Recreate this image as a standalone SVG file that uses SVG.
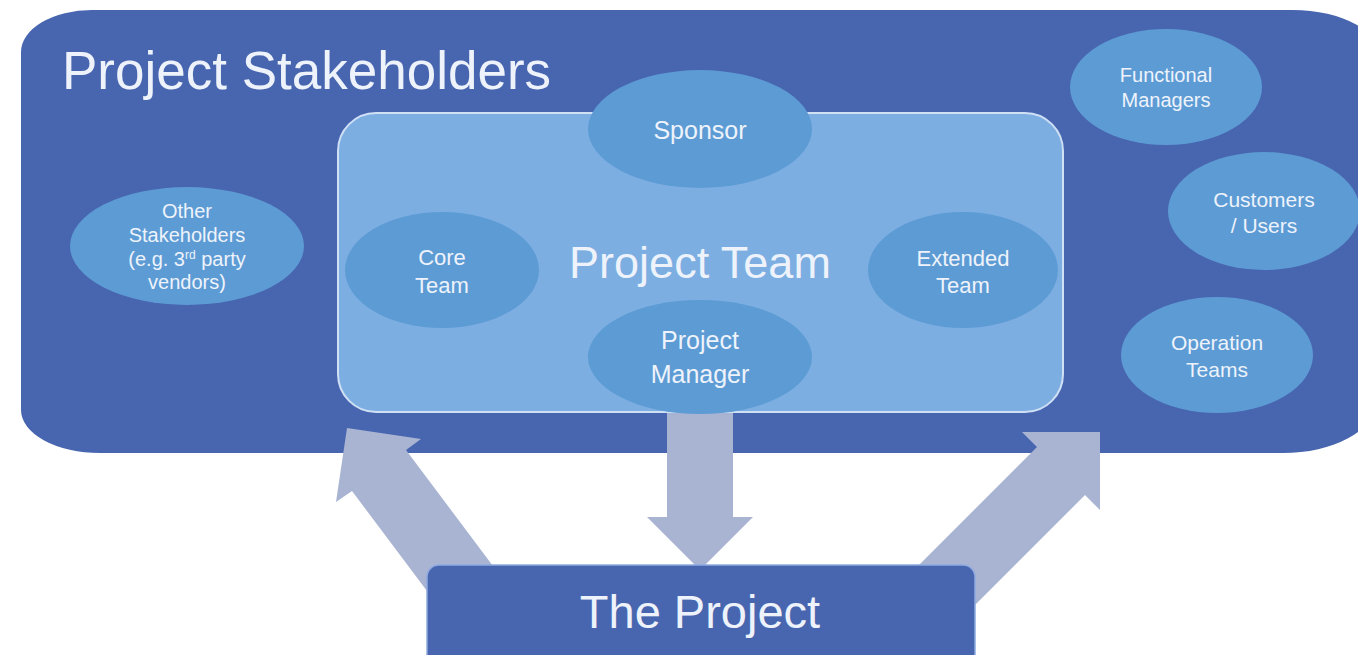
<svg xmlns="http://www.w3.org/2000/svg" width="1358" height="655" viewBox="0 0 1358 655">
<style>
.outer{fill:#4866b0}
.team{fill:#7caee2;stroke:#cfe0f5;stroke-width:2}
.ell{fill:#5d9bd4}
.arrow{fill:#a9b4d3}
.box{fill:#4866b0;stroke:#8faadf;stroke-width:1.5}
text{font-family:"Liberation Sans",Arial,sans-serif;fill:#eef3fb}
.lbl{text-anchor:middle}
.big{font-size:53px}
.mid{font-size:45px;text-anchor:middle}
.s20{font-size:20px}
.s21{font-size:21px}
.s22{font-size:22px}
.s25{font-size:25px}
</style>
<g id="stakeholders">
<path class="outer" d="M 92,10 H 1293 A 90 50 0 0 1 1383 60 L 1375 403 A 92 50 0 0 1 1283 453 H 100 A 79 43 0 0 1 21 410 V 52 A 71 42 0 0 1 92 10 Z"/>
<text class="big" x="62" y="89">Project Stakeholders</text>
</g>
<g id="connectors">
<polygon class="arrow" points="347,428 421,439 406,450 526,610 472,651 352,491 336,502"/>
<polygon class="arrow" points="667,405 733,405 733,517 753,517 700,570 647,517 667,517"/>
<polygon class="arrow" points="1100,432 1100,510 1085,495 944,636 896,588 1037,447 1022,432"/>
</g>
<g id="project-team">
<rect class="team" x="338" y="113" width="725" height="299" rx="38" ry="38"/>
<text class="mid" x="700" y="278">Project Team</text>
</g>
<g id="sponsor">
<ellipse class="ell" cx="700" cy="129" rx="112" ry="59"/>
<text class="lbl s25" x="700" y="139">Sponsor</text>
</g>
<g id="core-team">
<ellipse class="ell" cx="442" cy="270" rx="97" ry="58"/>
<text class="lbl s22" x="442" y="265">Core</text>
<text class="lbl s22" x="442" y="293">Team</text>
</g>
<g id="extended-team">
<ellipse class="ell" cx="963" cy="270" rx="95" ry="58"/>
<text class="lbl s22" x="963" y="266">Extended</text>
<text class="lbl s22" x="963" y="293">Team</text>
</g>
<g id="project-manager">
<ellipse class="ell" cx="700" cy="357" rx="112" ry="57"/>
<text class="lbl s25" x="700" y="349">Project</text>
<text class="lbl s25" x="700" y="383">Manager</text>
</g>
<g id="other-stakeholders">
<ellipse class="ell" cx="187" cy="246" rx="117" ry="59"/>
<text class="lbl s20" x="187" y="218">Other</text>
<text class="lbl s20" x="187" y="242">Stakeholders</text>
<text class="lbl s20" x="187" y="266">(e.g. 3<tspan font-size="12" dy="-7">rd</tspan><tspan dy="7"> party</tspan></text>
<text class="lbl s20" x="187" y="289">vendors)</text>
</g>
<g id="functional-managers">
<ellipse class="ell" cx="1166" cy="87" rx="96" ry="58"/>
<text class="lbl s20" x="1166" y="82">Functional</text>
<text class="lbl s20" x="1166" y="107">Managers</text>
</g>
<g id="customers-users">
<ellipse class="ell" cx="1264" cy="211" rx="96" ry="59"/>
<text class="lbl s21" x="1264" y="207">Customers</text>
<text class="lbl s21" x="1264" y="233">/ Users</text>
</g>
<g id="operation-teams">
<ellipse class="ell" cx="1217" cy="355" rx="96" ry="58"/>
<text class="lbl s21" x="1217" y="350">Operation</text>
<text class="lbl s21" x="1217" y="377">Teams</text>
</g>
<g id="the-project">
<rect class="box" x="427" y="565" width="548" height="110" rx="12" ry="12"/>
<text class="lbl" style="font-size:47px" x="700" y="628">The Project</text>
</g>
</svg>
